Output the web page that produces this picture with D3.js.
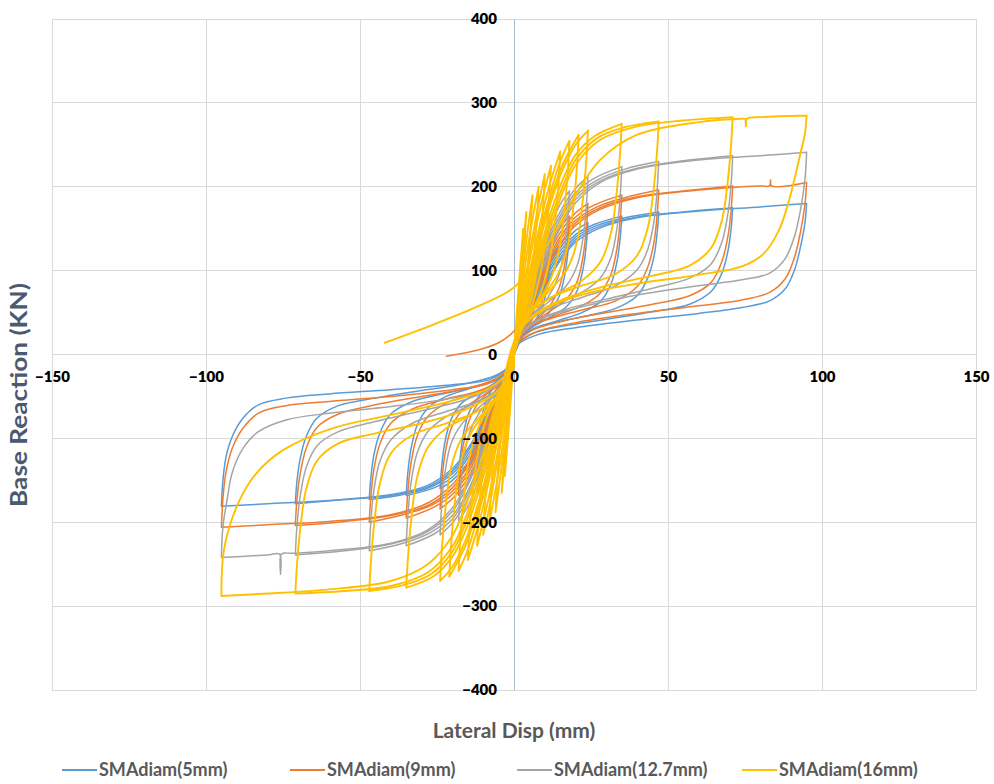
<!DOCTYPE html>
<html>
<head>
<meta charset="utf-8">
<script src="https://cdn.jsdelivr.net/npm/d3@7"></script>
<style>
  html, body { margin: 0; padding: 0; background: #ffffff; }
  svg { display: block; }
</style>
</head>
<body>
<svg id="chart" width="994" height="784"></svg>
<script>
// ---------------- DATA ----------------
const seriesNames = ["SMAdiam(5mm)", "SMAdiam(9mm)", "SMAdiam(12.7mm)", "SMAdiam(16mm)"];
const seriesColors = ["#5b9bd5", "#ed7d31", "#a5a5a5", "#ffc000"];
const xTicks = [-150, -100, -50, 0, 50, 100, 150];
const yTicks = [-400, -300, -200, -100, 0, 100, 200, 300, 400];
const xTitle = "Lateral Disp (mm)";
const yTitle = "Base Reaction (KN)";

// Each loop: flat list of (disp mm, force kN) pairs, in drawing order.
const loops5mm = [
  [0,0, 2,28, 4,55, 3,35, 1.5,15, 0,0, -2,-28, -4,-55, -3,-35, -1.5,-15, 0,0],
  [0,0, 3,38, 6,75, 8,95, 7.5,75, 6.5,52, 4.5,32, 2,16, 0,3, -3,-38, -6,-75, -8,-95, -7.5,-75, -6.5,-52, -4.5,-32, -2,-16, 0,-3],
  [0,0, 4,50, 8,92, 12,122, 11.5,100, 10.5,75, 8.5,50, 5,32, 2,18, 0,4, -4,-50, -8,-92, -12,-122, -11.5,-100, -10.5,-75, -8.5,-50, -5,-32, -2,-18, 0,-4],
  [0,0, 4,45, 8,85, 12,115, 15,132, 18,145, 17.5,122, 16.5,95, 14.5,68, 11,48, 6,33, 2,20, 0,6, -4,-45, -8,-85, -12,-115, -15,-134, -18,-147, -17.5,-124, -16.5,-96, -14.5,-68, -11,-48, -6,-33, -2,-20, 0,-6],
  [0,0, 4,42, 8,80, 12,110, 16,132, 20,148, 24,157, 23.5,132, 22.5,104, 20.5,76, 17,57, 11,43, 5,30, 1,14, 0,6, -4,-42, -8,-80, -12,-110, -16,-134, -20,-150, -24,-160, -23.5,-135, -22.5,-106, -20.5,-78, -17,-58, -11,-44, -5,-31, -1,-14, 0,-6],
  [0,0, 4,40, 8,76, 12,106, 16,128, 20,143, 26,155, 35,165, 34.5,140, 33.5,112, 31.5,84, 28,63, 22,50, 14,40, 6,30, 1,15, 0,8, -4,-40, -8,-76, -12,-106, -16,-129, -20,-146, -26,-159, -35,-168, -34.5,-142, -33.5,-114, -31.5,-85, -28,-64, -22,-50, -14,-40, -6,-30, -1,-15, 0,-8],
  [0,0, 4,38, 8,72, 12,102, 16,124, 20,140, 27,154, 36,163, 47,170, 46.5,146, 45.5,118, 43.5,92, 40,70, 33,55, 22,45, 12,37, 5,28, 1,15, 0,8, -4,-38, -8,-72, -12,-102, -16,-125, -20,-142, -27,-158, -36,-167, -47,-173, -46.5,-148, -45.5,-120, -43.5,-93, -40,-71, -33,-56, -22,-46, -12,-38, -5,-29, -1,-15, 0,-8],
  [0,0, 4,35, 8,68, 12,97, 16,120, 20,137, 28,153, 40,164, 55,170, 71,175, 70.5,150, 69.5,124, 67.5,97, 64,75, 57,60, 45,51, 30,42, 16,34, 6,25, 1,12, 0,6, -4,-35, -8,-68, -12,-97, -16,-121, -20,-139, -28,-158, -40,-168, -55,-173, -71,-178, -70.5,-152, -69.5,-126, -67.5,-98, -64,-76, -57,-61, -45,-52, -30,-43, -16,-35, -6,-25, -1,-12, 0,-6],
  [0,0, 4,33, 8,65, 12,94, 16,117, 20,134, 28,151, 40,163, 60,171, 80,176, 95,180, 94.5,158, 93,128, 91,100, 88,78, 83,64, 74,56, 60,49, 40,41, 20,32, 8,24, 2,14, 0,6, -4,-33, -8,-65, -12,-94, -16,-118, -20,-136, -28,-156, -40,-167, -60,-174, -80,-178, -95,-181, -94.5,-150, -93.5,-122, -91.5,-98, -88,-76, -83,-60, -74,-52, -60,-47, -40,-42, -20,-36, -8,-30, -2,-16, 0,-6]
];

const loops9mm = [
  [0,0, 2,32, 4,62, 3,40, 1.5,17, 0,0, -2,-32, -4,-62, -3,-40, -1.5,-17, 0,0],
  [0,0, 3,43, 6,85, 8,108, 7.5,85, 6.5,60, 4.5,37, 2,19, 0,4, -3,-43, -6,-85, -8,-108, -7.5,-85, -6.5,-60, -4.5,-37, -2,-19, 0,-4],
  [0,0, 4,57, 8,105, 12,138, 11.5,114, 10.5,86, 8.5,58, 5,37, 2,21, 0,5, -4,-57, -8,-105, -12,-140, -11.5,-116, -10.5,-87, -8.5,-58, -5,-37, -2,-21, 0,-5],
  [0,0, 4,52, 8,97, 12,131, 15,151, 18,165, 17.5,139, 16.5,108, 14.5,78, 11,55, 6,38, 2,23, 0,7, -4,-52, -8,-97, -12,-131, -15,-153, -18,-168, -17.5,-141, -16.5,-109, -14.5,-78, -11,-55, -6,-38, -2,-23, 0,-7],
  [0,0, 4,48, 8,92, 12,126, 16,151, 20,169, 24,180, 23.5,151, 22.5,119, 20.5,87, 17,66, 11,50, 5,35, 1,16, 0,7, -4,-48, -8,-92, -12,-126, -16,-153, -20,-172, -24,-184, -23.5,-154, -22.5,-121, -20.5,-89, -17,-67, -11,-51, -5,-36, -1,-16, 0,-7],
  [0,0, 4,46, 8,87, 12,121, 16,146, 20,164, 26,178, 35,190, 34.5,161, 33.5,128, 31.5,96, 28,73, 22,58, 14,47, 6,35, 1,17, 0,9, -4,-46, -8,-87, -12,-121, -16,-148, -20,-167, -26,-182, -35,-195, -34.5,-165, -33.5,-131, -31.5,-98, -28,-74, -22,-58, -14,-47, -6,-35, -1,-17, 0,-9],
  [0,0, 4,44, 8,83, 12,117, 16,142, 20,160, 27,176, 36,187, 47,196, 46.5,168, 45.5,135, 43.5,105, 40,81, 33,64, 22,53, 12,43, 5,33, 1,17, 0,9, -4,-44, -8,-83, -12,-117, -16,-144, -20,-163, -27,-180, -36,-191, -47,-200, -46.5,-171, -45.5,-137, -43.5,-106, -40,-82, -33,-65, -22,-53, -12,-44, -5,-33, -1,-17, 0,-9],
  [0,0, 4,40, 8,78, 12,111, 16,137, 20,157, 28,175, 40,188, 55,195, 71,201, 70.5,172, 69.5,142, 67.5,111, 64,86, 57,70, 45,60, 30,50, 16,40, 6,29, 1,14, 0,7, -4,-40, -8,-78, -12,-111, -16,-138, -20,-159, -28,-180, -40,-192, -55,-199, -71,-204, -70.5,-174, -69.5,-144, -67.5,-112, -64,-87, -57,-71, -45,-60, -30,-50, -16,-41, -6,-29, -1,-14, 0,-7],
  [-22,-2, -12,5, -5,14, 0,28, 4,55, 8,85, 12,112, 16,136, 20,154, 28,173, 40,187, 60,196, 80,201, 83,201, 83.3,208, 83.6,201, 95,205, 94.5,180, 93,146, 91,115, 88,90, 83,74, 74,65, 60,58, 40,49, 20,38, 8,28, 2,16, 0,7, -4,-38, -8,-75, -12,-108, -16,-135, -20,-155, -28,-177, -40,-191, -60,-199, -80,-203, -95,-206, -94.5,-172, -93.5,-140, -91.5,-112, -88,-88, -83,-70, -74,-61, -60,-56, -40,-50, -20,-42, -8,-34, -2,-18, 0,-7]
];

const loops127mm = [
  [0,0, 2,37, 4,72, 3,47, 1.5,20, 0,0, -2,-37, -4,-72, -3,-47, -1.5,-20, 0,0],
  [0,0, 3,50, 6,98, 8,125, 7.5,98, 6.5,70, 4.5,44, 2,22, 0,5, -3,-50, -6,-98, -8,-125, -7.5,-98, -6.5,-70, -4.5,-44, -2,-22, 0,-5],
  [0,0, 4,67, 8,124, 12,163, 11.5,134, 10.5,101, 8.5,69, 5,44, 2,25, 0,6, -4,-67, -8,-124, -12,-165, -11.5,-136, -10.5,-102, -8.5,-69, -5,-44, -2,-25, 0,-6],
  [0,0, 4,61, 8,114, 12,155, 15,179, 18,195, 17.5,165, 16.5,129, 14.5,94, 11,68, 6,47, 2,28, 0,8, -4,-61, -8,-114, -12,-155, -15,-181, -18,-198, -17.5,-167, -16.5,-130, -14.5,-94, -11,-68, -6,-47, -2,-28, 0,-8],
  [0,0, 4,57, 8,108, 12,148, 16,177, 20,198, 24,212, 23.5,178, 22.5,141, 20.5,106, 17,82, 11,62, 5,43, 1,20, 0,9, -4,-57, -8,-108, -12,-148, -16,-179, -20,-201, -24,-215, -23.5,-181, -22.5,-143, -20.5,-107, -17,-83, -11,-62, -5,-43, -1,-20, 0,-9],
  [0,0, 4,54, 8,103, 12,143, 16,172, 20,193, 26,210, 35,224, 34.5,190, 33.5,152, 31.5,116, 28,91, 22,74, 14,60, 6,44, 1,21, 0,11, -4,-54, -8,-103, -12,-143, -16,-174, -20,-196, -26,-214, -35,-228, -34.5,-194, -33.5,-155, -31.5,-118, -28,-92, -22,-74, -14,-60, -6,-44, -1,-21, 0,-11],
  [0,0, 4,52, 8,99, 12,138, 16,168, 20,189, 27,208, 36,221, 47,230, 46.5,198, 45.5,160, 43.5,126, 40,101, 33,82, 22,68, 12,55, 5,41, 1,21, 0,11, -4,-52, -8,-99, -12,-138, -16,-170, -20,-192, -27,-212, -36,-225, -47,-234, -46.5,-201, -45.5,-162, -43.5,-127, -40,-102, -33,-82, -22,-68, -12,-56, -5,-41, -1,-21, 0,-11],
  [0,0, 4,48, 8,93, 12,131, 16,162, 20,185, 28,207, 40,222, 55,231, 71,237, 70.5,204, 69.5,169, 67.5,134, 64,108, 57,91, 45,79, 30,66, 16,53, 6,38, 1,18, 0,9, -4,-48, -8,-93, -12,-131, -16,-163, -20,-187, -28,-211, -40,-226, -55,-234, -71,-239, -70.5,-206, -69.5,-171, -67.5,-135, -64,-109, -57,-92, -45,-80, -30,-67, -16,-54, -6,-38, -1,-18, 0,-9],
  [0,0, 4,45, 8,89, 12,127, 16,158, 20,181, 28,205, 40,221, 60,232, 80,237, 95,241, 94.5,210, 93,172, 91,140, 88,114, 83,97, 74,89, 60,82, 40,71, 20,55, 8,41, 2,22, 0,9, -4,-45, -8,-89, -12,-127, -16,-159, -20,-183, -28,-209, -40,-225, -60,-234, -72,-237, -75.5,-238, -75.8,-262, -76.1,-238, -80,-239, -95,-242, -94.5,-205, -93,-170, -91.5,-141, -88,-112, -83,-92, -74,-78, -60,-70, -40,-62, -20,-52, -8,-41, -2,-22, 0,-9]
];

const loops16mm = [
  [0,0, 1.5,80, 3,150, 2.4,105, 1.4,55, 0.5,15, 0,0, -1.5,-78, -3,-145, -2.4,-102, -1.4,-54, -0.5,-15, 0,0],
  [0,0, 2,90, 4,170, 3.2,120, 2,65, 0.8,20, 0,0, -2,-88, -4,-165, -3.2,-118, -2,-65, -0.8,-20, 0,0],
  [0,0, 2,70, 4,135, 6,190, 5.4,150, 4.3,100, 2.8,55, 1,18, 0,4, -2,-70, -4,-133, -6,-188, -5.4,-148, -4.3,-98, -2.8,-54, -1,-18, 0,-4],
  [0,0, 2.5,75, 5,140, 8,200, 7.4,160, 6.2,110, 4.5,65, 2,28, 0,5, -2.5,-75, -5,-140, -8,-200, -7.4,-160, -6.2,-110, -4.5,-65, -2,-28, 0,-5],
  [0,0, 3,75, 6,140, 8,180, 10,215, 9.4,175, 8.4,130, 6.7,85, 4,45, 1.5,20, 0,6, -3,-75, -6,-140, -8,-182, -10,-215, -9.4,-176, -8.4,-131, -6.7,-86, -4,-46, -1.5,-20, 0,-6],
  [0,0, 3,70, 6,130, 9,182, 12,225, 11.4,185, 10.3,140, 8.5,95, 5.5,55, 2,28, 0,8, -3,-70, -6,-130, -9,-184, -12,-228, -11.4,-188, -10.3,-142, -8.5,-96, -5.5,-55, -2,-28, 0,-8],
  [0,0, 4,80, 8,148, 11,195, 15,242, 14.4,202, 13.3,158, 11.5,112, 8.5,72, 4.5,45, 1.5,24, 0,8, -4,-80, -8,-148, -11,-196, -15,-245, -14.4,-205, -13.3,-160, -11.5,-113, -8.5,-72, -4.5,-45, -1.5,-24, 0,-8],
  [0,0, 4,75, 8,140, 12,195, 15,230, 18,255, 17.4,215, 16.3,170, 14.5,122, 11,82, 6,52, 2,30, 0,10, -4,-75, -8,-140, -12,-196, -15,-233, -18,-258, -17.4,-218, -16.3,-172, -14.5,-123, -11,-82, -6,-52, -2,-30, 0,-10],
  [0,0, 4,72, 8,135, 12,188, 16,228, 21,262, 20.4,222, 19.3,177, 17.5,130, 14,94, 9,68, 4,45, 1,22, 0,10, -4,-72, -8,-135, -12,-188, -16,-230, -21,-265, -20.4,-226, -19.3,-180, -17.5,-131, -14,-94, -9,-68, -4,-45, -1,-22, 0,-10],
  [0,0, 4,68, 8,130, 12,182, 16,222, 20,250, 24,267, 23.4,228, 22.3,183, 20.5,135, 17,100, 11,74, 5,50, 1,25, 0,12, -4,-68, -8,-130, -12,-182, -16,-224, -20,-253, -24,-270, -23.4,-231, -22.3,-185, -20.5,-136, -17,-100, -11,-74, -5,-50, -1,-25, 0,-12],
  [0,0, 4,62, 8,120, 12,170, 16,210, 20,238, 26,260, 35,275, 34.4,238, 33.3,192, 31.5,145, 28,110, 22,88, 14,72, 6,52, 1,26, 0,14, -4,-62, -8,-120, -12,-170, -16,-212, -20,-241, -26,-264, -35,-278, -34.4,-241, -33.3,-195, -31.5,-147, -28,-111, -22,-88, -14,-72, -6,-52, -1,-26, 0,-14],
  [0,0, 4,58, 8,113, 12,162, 16,202, 20,232, 27,258, 36,271, 47,278, 46.4,240, 45.3,196, 43.5,152, 40,118, 33,96, 22,82, 12,68, 5,50, 1,26, 0,14, -4,-58, -8,-113, -12,-162, -16,-204, -20,-235, -27,-262, -36,-275, -47,-282, -46.4,-244, -45.3,-198, -43.5,-153, -40,-118, -33,-96, -22,-82, -12,-68, -5,-50, -1,-26, 0,-14],
  [0,0, 4,55, 8,107, 12,154, 16,195, 20,226, 28,256, 40,272, 55,279, 71,283, 70.4,246, 69.3,203, 67.5,160, 64,127, 57,106, 45,94, 30,82, 16,66, 6,46, 1,22, 0,12, -4,-55, -8,-107, -12,-154, -16,-197, -20,-229, -28,-260, -40,-276, -55,-282, -71,-285, -70.4,-248, -69.3,-205, -67.5,-161, -64,-127, -57,-106, -45,-94, -30,-82, -16,-66, -6,-46, -1,-22, 0,-12],
  [-42,14, -26,36, -12,57, 0,80, 8,115, 14,150, 20,190, 28,232, 40,262, 60,277, 74,281, 75,281, 75.3,272, 75.6,281, 80,283, 95,285, 94.4,262, 93,240, 91,208, 89,180, 86,148, 81,120, 74,105, 60,95, 41,85, 25,74, 12,58, 4,38, 0,15, -4,-40, -8,-95, -12,-142, -16,-183, -20,-216, -28,-250, -40,-270, -60,-280, -80,-285, -95,-288, -94,-229, -89,-173, -83.5,-141, -75,-114, -59,-88, -40,-72, -20,-55, -8,-40, -2,-22, 0,-10]
];

const seriesLoops = [loops5mm, loops9mm, loops127mm, loops16mm];

// ---------------- LAYOUT ----------------
const plot = { left: 52, right: 976, top: 19, bottom: 690 };
const svg = d3.select("#chart");
const font = "Lato, 'Open Sans', sans-serif";

const x = d3.scaleLinear().domain([-150, 150]).range([plot.left, plot.right]);
const y = d3.scaleLinear().domain([-400, 400]).range([plot.bottom, plot.top]);

// grid
const grid = svg.append("g");
grid.selectAll("line.v").data(xTicks).join("line")
  .attr("x1", d => x(d)).attr("x2", d => x(d))
  .attr("y1", plot.top).attr("y2", plot.bottom)
  .attr("stroke", "#d9d9d9").attr("stroke-width", 1).attr("shape-rendering", "crispEdges");
grid.selectAll("line.h").data(yTicks).join("line")
  .attr("x1", plot.left).attr("x2", plot.right)
  .attr("y1", d => y(d)).attr("y2", d => y(d))
  .attr("stroke", "#d9d9d9").attr("stroke-width", 1).attr("shape-rendering", "crispEdges");

// vertical axis line at x = 0
svg.append("line")
  .attr("x1", x(0)).attr("x2", x(0)).attr("y1", plot.top).attr("y2", plot.bottom)
  .attr("stroke", "#a9bcd6").attr("stroke-width", 1).attr("shape-rendering", "crispEdges");

// series
const line = d3.line()
  .x(d => x(d[0])).y(d => y(d[1]))
  .curve(d3.curveCatmullRom.alpha(0.5));

function toPairs(flat) {
  const out = [];
  for (let i = 0; i < flat.length; i += 2) out.push([flat[i], flat[i + 1]]);
  return out;
}
// split a loop into runs that are monotone in displacement, so the
// smoothing never overshoots the reversal (peak) points
function runs(pairs) {
  const out = [];
  let cur = [pairs[0]];
  let dir = 0;
  for (let i = 1; i < pairs.length; i++) {
    const dx = pairs[i][0] - pairs[i - 1][0];
    const s = Math.sign(dx);
    if (dir !== 0 && s !== 0 && s !== dir) {
      out.push(cur);
      cur = [pairs[i - 1]];
    }
    if (s !== 0) dir = s;
    cur.push(pairs[i]);
  }
  out.push(cur);
  return out;
}

seriesLoops.forEach((loops, si) => {
  const g = svg.append("g").attr("class", "series-" + si);
  g.selectAll("path").data(loops).join("path")
    .attr("d", d => runs(toPairs(d)).map(r => line(r)).join(""))
    .attr("fill", "none")
    .attr("stroke", seriesColors[si])
    .attr("stroke-width", si === 3 ? 1.9 : 1.5)
    .attr("stroke-linejoin", "round")
    .attr("stroke-linecap", "round");
});

// axes (labels only)
const xAxis = d3.axisBottom(x).tickValues(xTicks).tickSize(0).tickPadding(17).tickFormat(d3.format("d"));
const xg = svg.append("g").attr("transform", `translate(0,${y(0)})`).call(xAxis);
xg.select(".domain").remove();
xg.selectAll("text").attr("font-family", font).attr("font-size", 15).attr("font-weight", 800).attr("fill", "#000");

const yAxis = d3.axisLeft(y).tickValues(yTicks).tickSize(0).tickPadding(17).tickFormat(d3.format("d"));
const yg = svg.append("g").attr("transform", `translate(${x(0)},0)`).call(yAxis);
yg.select(".domain").remove();
yg.selectAll("text").attr("font-family", font).attr("font-size", 15).attr("font-weight", 800).attr("fill", "#000");

// axis titles
svg.append("text")
  .attr("transform", `translate(27,395) rotate(-90)`)
  .attr("text-anchor", "middle")
  .attr("font-family", font).attr("font-size", 22).attr("font-weight", 700)
  .attr("fill", "#4a5a70")
  .attr("textLength", 224).attr("lengthAdjust", "spacingAndGlyphs")
  .text(yTitle);

svg.append("text")
  .attr("x", 514).attr("y", 738)
  .attr("text-anchor", "middle")
  .attr("font-family", font).attr("font-size", 21).attr("font-weight", 700)
  .attr("fill", "#595959")
  .text(xTitle);

// legend
const legendX = [62, 290, 517, 742];
const lg = svg.append("g");
seriesNames.forEach((name, i) => {
  lg.append("line")
    .attr("x1", legendX[i]).attr("x2", legendX[i] + 35)
    .attr("y1", 770).attr("y2", 770)
    .attr("stroke", seriesColors[i]).attr("stroke-width", 2);
  lg.append("text")
    .attr("x", legendX[i] + 37).attr("y", 776)
    .attr("font-family", font).attr("font-size", 18).attr("font-weight", 700)
    .attr("fill", "#595959")
    .text(name);
});
</script>
</body>
</html>
